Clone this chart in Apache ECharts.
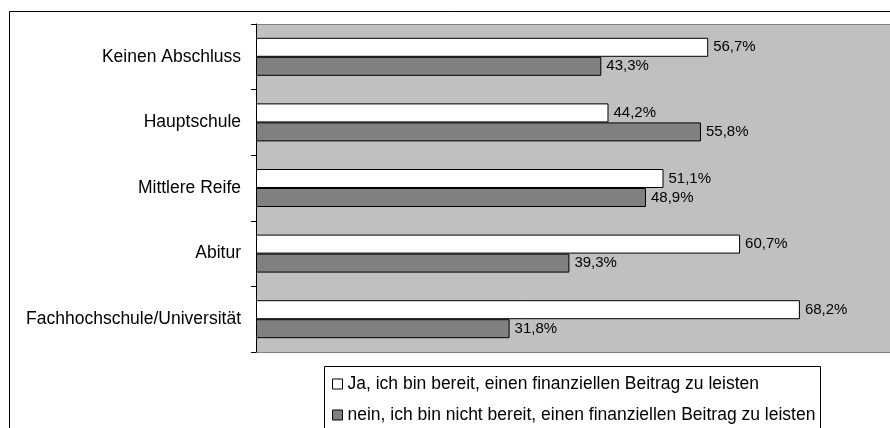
<!DOCTYPE html>
<html>
<head>
<meta charset="utf-8">
<script src="https://cdn.jsdelivr.net/npm/echarts@6/dist/echarts.min.js"></script>
<style>
html,body{margin:0;padding:0;background:#fff;}
#c{width:890px;height:428px;}
</style>
</head>
<body>
<div id="c"></div>
<script>
const categories = ["Keinen Abschluss", "Hauptschule", "Mittlere Reife", "Abitur", "Fachhochschule/Universität"];
const seriesNames = ["Ja, ich bin bereit, einen finanziellen Beitrag zu leisten", "nein, ich bin nicht bereit, einen finanziellen Beitrag zu leisten"];
const jaValues = [56.7, 44.2, 51.1, 60.7, 68.2];
const neinValues = [43.3, 55.8, 48.9, 39.3, 31.8];

const FONT = '"Liberation Sans", Arial, sans-serif';
const chart = echarts.init(document.getElementById('c'), null, {renderer: 'canvas'});
const fmt = p => p.value.toFixed(1).replace('.', ',') + '%';

chart.setOption({
  animation: false,
  backgroundColor: '#fff',
  textStyle: {fontFamily: FONT},
  graphic: [{
    type: 'rect', z: -10, silent: true,
    shape: {x: 9.5, y: 11.5, width: 1000, height: 1000},
    style: {fill: 'none', stroke: '#000', lineWidth: 1}
  }, {
    type: 'rect', z: 5, silent: true,
    shape: {x: 324.5, y: 366.5, width: 496, height: 100},
    style: {fill: '#fff', stroke: '#000', lineWidth: 1}
  }],
  grid: {
    left: 256, top: 24, right: 0, bottom: 76,
    show: true, backgroundColor: '#C0C0C0', borderWidth: 0
  },
  legend: {
    orient: 'vertical', left: 332, top: 375, z: 10,
    padding: 0,
    itemWidth: 10, itemHeight: 10, itemGap: 13,
    icon: 'rect',
    textStyle: {fontSize: 17.5, color: '#000', fontFamily: FONT, lineHeight: 16},
    data: [
      {name: seriesNames[0], itemStyle: {color: '#fff', borderColor: '#000', borderWidth: 1}},
      {name: seriesNames[1], itemStyle: {color: '#808080', borderColor: '#000', borderWidth: 1}}
    ]
  },
  xAxis: [{
    type: 'value', min: 0, max: 79.5, position: 'bottom',
    axisLine: {show: true, lineStyle: {color: '#808080', width: 1}},
    axisTick: {show: false}, axisLabel: {show: false}, splitLine: {show: false}
  }, {
    type: 'value', min: 0, max: 79.5, position: 'top',
    axisLine: {show: true, lineStyle: {color: '#808080', width: 1}},
    axisTick: {show: false}, axisLabel: {show: false}, splitLine: {show: false}
  }],
  yAxis: {
    type: 'category', inverse: true, data: categories, z: 10,
    axisLine: {lineStyle: {color: '#000', width: 1}},
    axisTick: {show: true, length: 5, lineStyle: {color: '#000'}},
    axisLabel: {fontSize: 17.5, color: '#000', margin: 15, fontFamily: FONT, padding: [4, 0, 0, 0]}
  },
  series: [
    {
      name: seriesNames[0], type: 'bar', data: jaValues,
      barWidth: 19, barGap: '0%',
      itemStyle: {color: '#fff', borderColor: '#000', borderWidth: 1},
      label: {show: true, position: 'right', distance: 5, formatter: fmt, fontSize: 15, color: '#000', fontFamily: FONT}
    },
    {
      name: seriesNames[1], type: 'bar', data: neinValues,
      barWidth: 19, barGap: '0%',
      itemStyle: {color: '#808080', borderColor: '#000', borderWidth: 1},
      label: {show: true, position: 'right', distance: 5, formatter: fmt, fontSize: 15, color: '#000', fontFamily: FONT}
    }
  ]
});
</script>
</body>
</html>
